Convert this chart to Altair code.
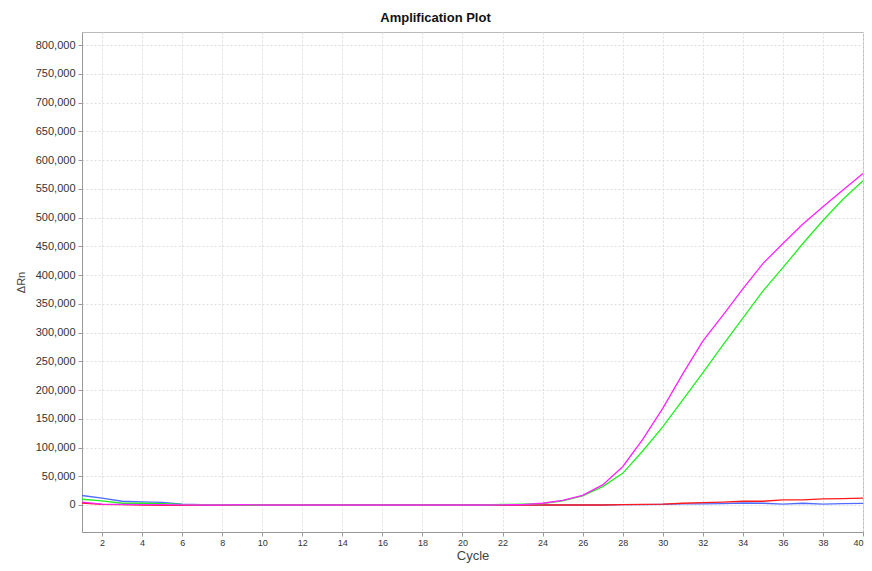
import altair as alt
import pandas as pd

cycles = list(range(1, 41))

magenta = [5000, 1500, 1000, 800, 500, 200, 0, 0, 500, 0,
           0, 0, 0, 0, 0, 0, 0, 0, 0, 0,
           0, 300, 800, 3000, 8000, 16800, 35000, 66600, 114000, 168000,
           228000, 285000, 330000, 376000, 420000, 455000, 489000, 519000, 548000, 577000]

green = [10000, 7000, 3000, 3000, 2500, 1000, 500, 500, 0, 0,
         0, 0, 0, 0, 0, 0, 0, 0, 0, 0,
         0, 1000, 1500, 2500, 7000, 16000, 31900, 55100, 94000, 136000,
         183000, 230000, 278000, 325000, 372000, 413000, 455000, 495000, 532000, 564000]

red = [3500, 1000, 500, 0, -500, -500, -500, -300, 0, 0,
       0, 0, 0, 0, 0, 0, 0, 0, 0, 0,
       0, 0, 0, 0, 0, 0, 0, 500, 1000, 1500,
       3000, 4000, 5000, 6500, 6500, 9000, 9000, 10500, 11000, 12000]

blue = [16500, 12000, 6500, 5500, 4500, 1500, 500, 0, 0, -500,
        -500, -500, 500, 0, 0, 0, 0, 0, 500, 0,
        0, 0, 0, 0, 0, 0, 0, 500, 500, 1000,
        2000, 2000, 2500, 3500, 3000, 1500, 3000, 1500, 2500, 2800]

series_names = ["Blue", "Red", "Green", "Magenta"]
series_colors = ["#4f6cff", "#ff1a1a", "#22ee22", "#ff22ff"]
y_ticks = list(range(0, 800001, 50000))
x_ticks = list(range(2, 41, 2))

rows = []
for name, vals in zip(series_names, [blue, red, green, magenta]):
    for c, v in zip(cycles, vals):
        rows.append({"Cycle": c, "Rn": v, "Well": name})
df = pd.DataFrame(rows)

chart = alt.Chart(df).mark_line(strokeWidth=1.3).encode(
    x=alt.X("Cycle:Q",
            scale=alt.Scale(domain=[1, 40], nice=False, zero=False),
            axis=alt.Axis(values=x_ticks, title="Cycle", grid=True,
                          labelFontSize=9, labelColor="#333333",
                          titleFontSize=13, titleFontWeight="normal", titleColor="#444444",
                          titlePadding=2, labelPadding=2, tickSize=4,
                          domainColor="#999999", tickColor="#999999",
                          gridDash=[2, 2], gridColor="#dddddd")),
    y=alt.Y("Rn:Q",
            scale=alt.Scale(domain=[-47000, 823000], nice=False, zero=False),
            axis=alt.Axis(values=y_ticks, format=",d", title="ΔRn", grid=True,
                          labelFontSize=11, labelColor="#333333",
                          titleFontSize=11, titleFontWeight="normal", titleColor="#444444",
                          titleX=-61, titleY=250, titleAngle=-90, titleBaseline="middle",
                          labelPadding=3, tickSize=4,
                          domainColor="#999999", tickColor="#999999",
                          gridDash=[2, 2], gridColor="#dddddd")),
    color=alt.Color("Well:N", scale=alt.Scale(domain=series_names, range=series_colors), legend=None),
    order=alt.Order("Cycle:Q"),
).properties(
    width=781, height=500,
    title=alt.TitleParams("Amplification Plot", fontSize=13, fontWeight="bold", color="#111111",
                          anchor="middle", dx=-37, offset=7, font="Liberation Sans"),
    autosize=alt.AutoSizeParams(type="none"),
    padding={"left": 74, "top": 24, "right": 1, "bottom": 38},
).configure_view(
    stroke="#bbbbbb", strokeWidth=1
).configure_axis(
    labelFont="Liberation Sans", titleFont="Liberation Sans"
)

chart.save("out.html", embed_options={"renderer": "svg", "actions": False})
